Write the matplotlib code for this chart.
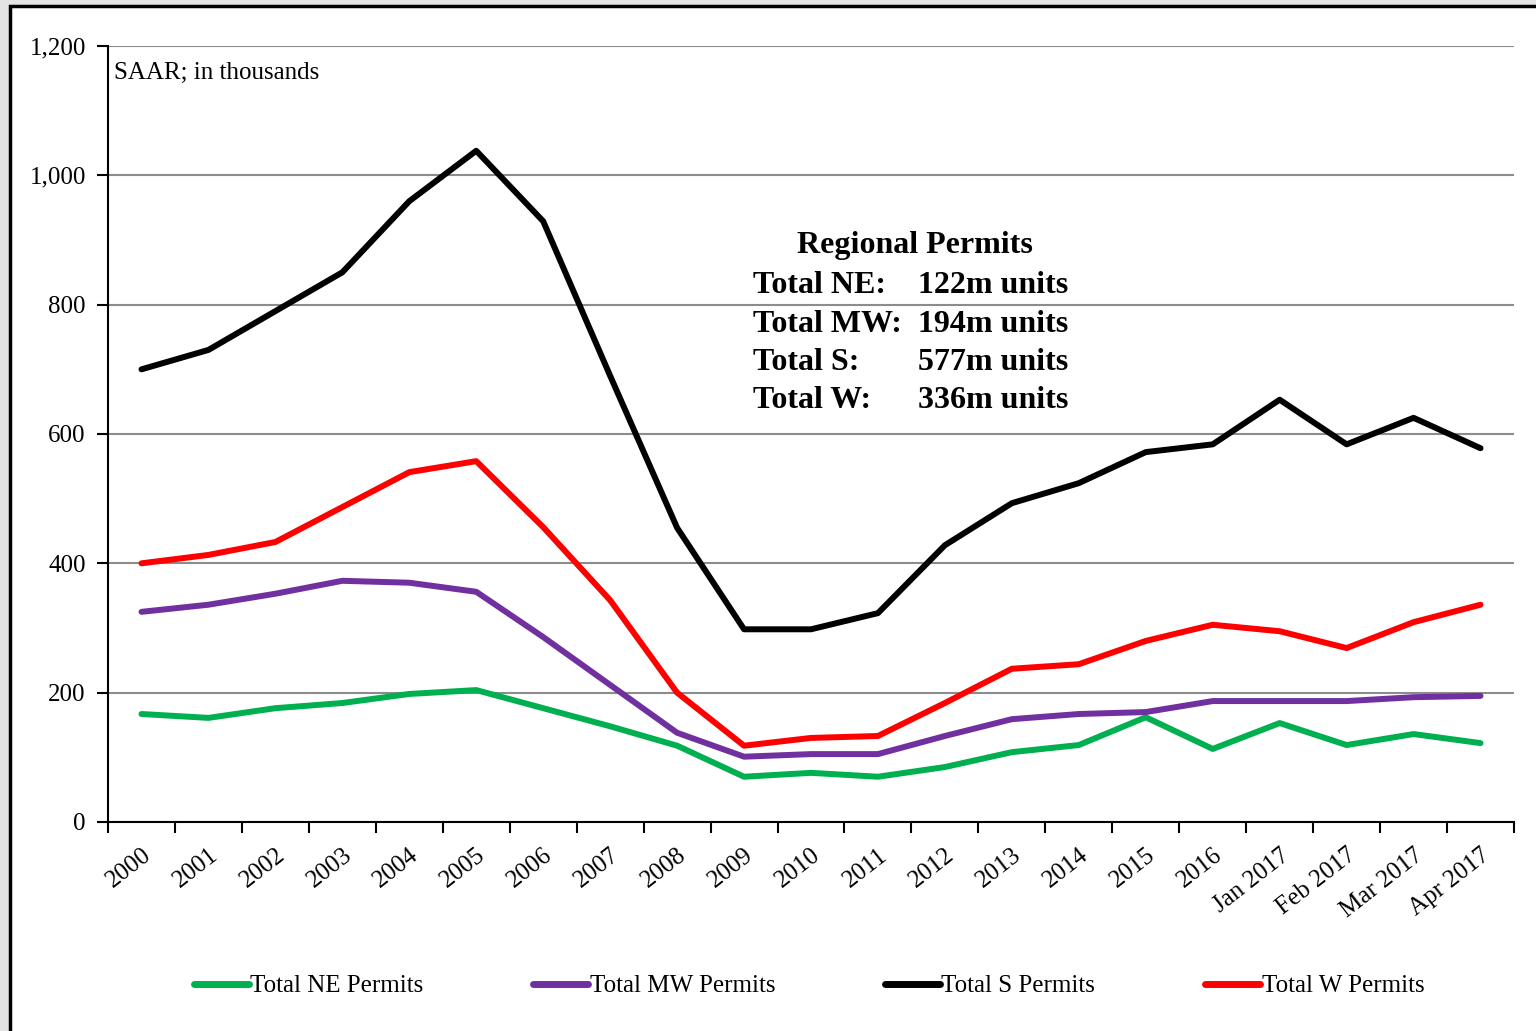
import matplotlib.pyplot as plt
from matplotlib.patches import Rectangle
from matplotlib.lines import Line2D

plt.rcParams['font.family'] = ['Liberation Serif', 'DejaVu Serif']

periods = ['2000', '2001', '2002', '2003', '2004', '2005', '2006', '2007', '2008',
           '2009', '2010', '2011', '2012', '2013', '2014', '2015', '2016',
           'Jan 2017', 'Feb 2017', 'Mar 2017', 'Apr 2017']

ne_permits = [167, 161, 176, 184, 198, 204, 176, 148, 118, 70, 76, 70, 85,
              108, 119, 162, 113, 153, 119, 136, 122]
mw_permits = [325, 336, 353, 373, 370, 356, 286, 212, 138, 101, 105, 105, 133,
              159, 167, 170, 187, 187, 187, 193, 195]
s_permits = [700, 730, 790, 850, 960, 1038, 929, 690, 455, 298, 298, 323, 428,
             493, 524, 572, 584, 653, 584, 625, 578]
w_permits = [400, 413, 433, 487, 541, 558, 456, 343, 200, 118, 130, 133, 184,
             237, 244, 280, 305, 295, 269, 309, 336]

series_names = ['Total NE Permits', 'Total MW Permits', 'Total S Permits', 'Total W Permits']
series_colors = ['#00b050', '#7030a0', '#000000', '#ff0000']

box_labels = ['Total NE:', 'Total MW:', 'Total S:', 'Total W:']
box_values = ['122m units', '194m units', '577m units', '336m units']

fig = plt.figure(figsize=(15.36, 10.31), dpi=100, facecolor='#e4e4e4')

# white chart panel with black frame (runs off the right/bottom edge)
fig.patches.append(Rectangle((10 / 1536, -0.01), 1.01, 1 - 6 / 1031 + 0.01,
                             transform=fig.transFigure, facecolor='white',
                             edgecolor='black', linewidth=2.5, zorder=-5))

ax = fig.add_axes([108 / 1536, 1 - 822 / 1031, (1514 - 108) / 1536, (822 - 46) / 1031])
ax.set_facecolor('none')

x = list(range(len(periods)))
for vals, name, col in zip([ne_permits, mw_permits, s_permits, w_permits],
                           series_names, series_colors):
    ax.plot(x, vals, color=col, linewidth=4.3, label=name, solid_capstyle='round')

ax.set_xlim(-0.5, len(periods) - 0.5)
ax.set_ylim(0, 1200)
ax.set_yticks(range(0, 1201, 200))
ax.set_yticklabels(['0', '200', '400', '600', '800', '1,000', '1,200'], fontsize=18)
ax.yaxis.grid(True, color='#8c8c8c', linewidth=1.5)
ax.set_axisbelow(True)

ax.set_xticks([i - 0.5 for i in range(len(periods) + 1)])
ax.set_xticklabels([])
ax.set_xticks(x, minor=True)
ax.set_xticklabels(periods, minor=True, rotation=38, ha='right',
                   rotation_mode='anchor', fontsize=18)
ax.tick_params(axis='x', which='major', length=8, width=1.5, direction='out')
ax.tick_params(axis='x', which='minor', length=0, pad=16)
ax.tick_params(axis='y', length=8, width=1.5, direction='out', pad=8)

for s in ['top', 'right']:
    ax.spines[s].set_visible(False)
for s in ['left', 'bottom']:
    ax.spines[s].set_linewidth(1.5)

ax.text(0.004, 0.979, 'SAAR; in thousands', transform=ax.transAxes,
        fontsize=18, va='top', ha='left')

# regional totals box
fig.text(915 / 1536, 1 - 246 / 1031, 'Regional Permits', fontsize=23,
         fontweight='bold', ha='center', va='center')
for i, (lab, val) in enumerate(zip(box_labels, box_values)):
    yy = 1 - (285.5 + i * 38.5) / 1031
    fig.text(753 / 1536, yy, lab, fontsize=23, fontweight='bold', ha='left', va='center')
    fig.text(918 / 1536, yy, val, fontsize=23, fontweight='bold', ha='left', va='center')

handles = [Line2D([], [], color=c, linewidth=5, solid_capstyle='round') for c in series_colors]
fig.legend(handles, series_names, loc='center', bbox_to_anchor=(809 / 1536, 1 - 986 / 1031),
           ncol=4, frameon=False, fontsize=18, handlelength=2.2, handletextpad=0.05,
           columnspacing=4.4)

fig.savefig('out.png', dpi=100, facecolor=fig.get_facecolor())
